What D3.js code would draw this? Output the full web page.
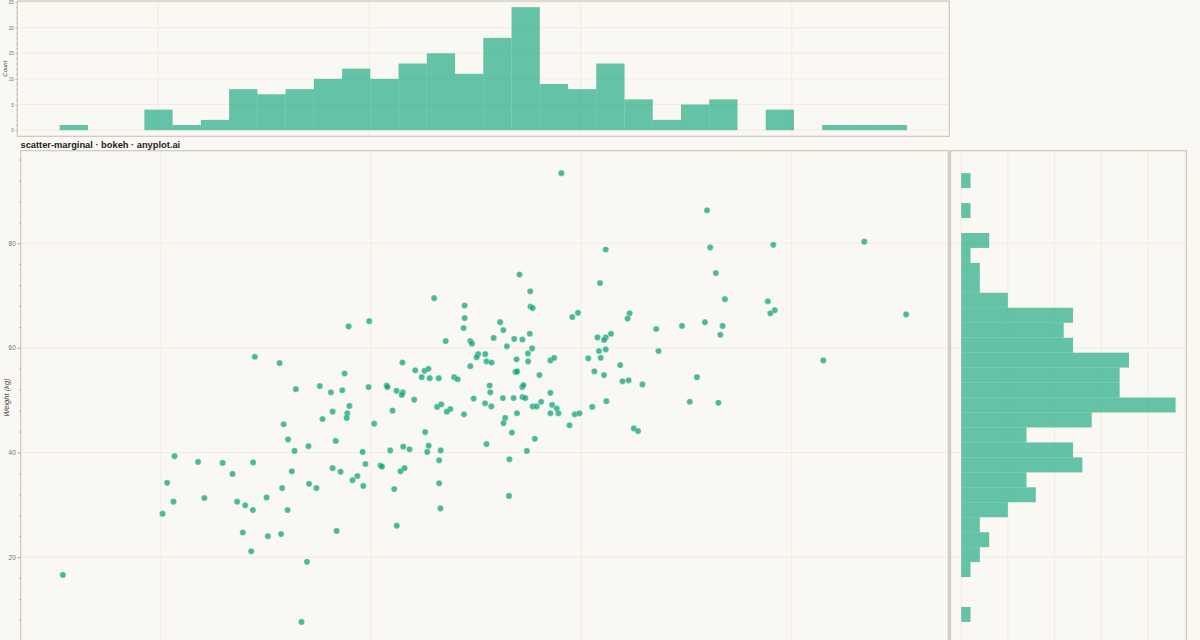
<!DOCTYPE html>
<html>
<head>
<meta charset="utf-8">
<script src="https://cdn.jsdelivr.net/npm/d3@7"></script>
<style>
html,body{margin:0;padding:0;background:#FAF8F2;overflow:hidden}
svg{display:block}
text{font-family:"Liberation Sans",Arial,Helvetica,sans-serif}
</style>
</head>
<body>
<svg id="chart" width="1200" height="640"></svg>
<script>
// ---------------- data ----------------
const heightCm = [
158.93,159.91,154.47,155.65,158.74,156.42,157.56,158.09,158.63,159.88,
160.74,160.78,161.21,158.97,158.17,158.87,157.69,158.84,161.02,155.84,
160.15,156.05,158.32,157.02,156.36,159.60,160.91,150.65,151.77,152.94,
154.39,159.73,160.45,160.52,158.17,150.30,153.41,156.23,158.55,161.40,
161.59,150.60,152.07,150.08,153.63,154.01,154.38,155.03,155.77,156.03,
157.05,157.40,159.12,159.35,159.63,161.10,153.90,155.09,155.72,154.30,
158.36,161.22,156.95,156.69,163.24,166.56,163.30,170.89,163.00,167.57,
164.45,167.58,167.69,164.45,164.40,166.14,166.29,169.84,169.57,172.30,
172.20,163.55,164.72,164.80,165.83,166.81,167.20,167.55,166.46,167.66,
167.46,170.77,171.16,171.08,171.41,170.84,171.16,161.49,165.09,165.43,
165.02,165.49,165.73,166.92,167.47,168.53,168.71,170.33,170.92,171.85,
162.10,162.54,162.73,162.41,162.79,163.22,163.95,164.12,164.72,166.87,
166.95,168.01,170.62,171.08,171.96,172.25,172.91,161.51,161.46,162.05,
165.64,165.67,164.88,166.27,166.78,167.19,167.25,167.20,167.34,168.53,
165.42,165.72,163.14,163.34,163.77,163.60,164.42,167.69,167.88,168.09,
168.61,168.83,168.53,168.91,166.94,166.38,166.30,170.52,171.19,169.69,
169.91,169.44,172.50,172.70,162.57,166.70,167.79,165.49,161.53,161.83,
162.74,162.67,163.31,167.41,163.24,166.58,175.98,176.13,179.13,183.46,
176.40,176.83,178.87,178.99,179.20,185.45,173.56,174.79,175.88,176.72,
176.61,173.67,181.51,175.50,175.16,176.52,169.05,171.16,167.06,145.34
];
const weightKg = [
64.1,65.1,58.3,57.1,55.1,52.1,52.7,51.5,51.9,52.5,
52.8,52.5,51.8,48.9,47.8,47.5,46.4,46.6,48.0,45.4,
45.5,42.5,42.2,41.2,40.3,40.1,40.4,39.3,38.2,38.0,
38.1,37.8,37.5,37.3,37.0,34.2,35.9,36.4,36.3,36.4,
37.0,30.6,31.3,28.3,30.6,29.9,29.0,31.4,33.2,29.0,
34.0,33.2,34.7,35.5,33.6,33.0,24.7,24.0,24.4,21.1,
25.0,26.0,19.1,7.6,34.1,31.7,29.3,72.4,69.5,70.8,
68.1,67.9,67.6,65.7,63.8,64.9,63.4,66.7,65.9,66.6,
65.6,61.3,61.3,60.8,61.9,61.7,61.6,62.7,60.3,59.9,
58.9,62.0,62.0,61.5,62.7,59.4,59.7,57.2,58.8,58.8,
58.2,57.4,57.2,57.8,57.4,57.6,58.1,58.0,58.1,56.7,
55.7,55.6,56.0,54.4,54.2,54.2,54.4,54.0,56.5,55.4,
55.5,54.8,55.5,54.8,53.6,53.8,53.0,51.5,51.0,50.1,
52.8,51.5,50.3,50.4,50.4,52.5,52.9,50.6,50.4,51.4,
49.4,48.8,48.7,49.2,48.3,47.8,47.3,48.8,48.8,49.7,
49.1,48.4,47.5,47.5,47.5,46.6,45.6,48.7,49.8,47.3,
47.5,45.2,44.6,44.1,43.9,43.8,42.6,41.6,41.1,40.6,
41.3,40.1,40.4,40.3,38.5,38.7,86.3,79.2,79.7,80.3,
74.3,69.3,68.9,66.6,67.2,66.4,63.6,64.2,64.9,64.2,
62.5,59.4,57.6,54.4,49.7,49.5,93.4,78.8,74.0,16.6
];
// 30 equal-width bins from min to max (left -> right)
const heightBinCounts = [1,0,0,4,1,2,8,7,8,10,12,10,13,15,11,18,24,9,8,13,6,2,5,6,0,4,0,1,1,1];
// 30 equal-width bins from min to max (bottom -> top)
const weightBinCounts = [1,0,0,1,2,3,2,5,8,7,13,12,7,14,23,17,17,18,12,11,12,5,2,2,1,3,0,1,0,1];
const heightGridTicks = [150,160,170,180];
const weightTicks = [20,40,60,80];
const countTicks = [0,5,10,15,20,25];
const countGridTicks = [0,5,10,15,20];
const titleText = "scatter-marginal · bokeh · anyplot.ai";
const weightLabel = "Weight (kg)";
const countLabel = "Count";

(function(){
// ---------------- style ----------------
const BG = "#FAF8F2";
const GREEN = "#009E73";
const GRID = "#F0ECE5";
const FRAME = "#CDC8C0";
const TICKTXT = "#6E6E6E";

const svg = d3.select("#chart");
svg.append("rect").attr("width",1200).attr("height",640).attr("fill",BG);

const xExt = d3.extent(heightCm), yExt = d3.extent(weightKg);
const xPad = (xExt[1]-xExt[0])*0.05, yPad = (yExt[1]-yExt[0])*0.05;
const xDom = [xExt[0]-xPad, xExt[1]+xPad];
const yDom = [yExt[0]-yPad, yExt[1]+yPad];
const nb = heightBinCounts.length;
const xEdges = d3.range(nb+1).map(i => xExt[0] + i*(xExt[1]-xExt[0])/nb);
const yEdges = d3.range(weightBinCounts.length+1).map(i => yExt[0] + i*(yExt[1]-yExt[0])/weightBinCounts.length);

// frames
const mainF = {l:20.7, r:948.3, t:150.7, b:644.4};
const topF = {l:17.3, r:949.3, t:1, b:136.3};
const rightF = {l:950.5, r:1186.3, t:150.7, b:644.4};

const xMain = d3.scaleLinear().domain(xDom).range([mainF.l, mainF.r]);
const yMain = d3.scaleLinear().domain(yDom).range([mainF.b, mainF.t]);
const xTop = d3.scaleLinear().domain(xDom).range([topF.l, topF.r]);
const maxTop = d3.max(heightBinCounts);
const yTop = d3.scaleLinear().domain([-0.05*maxTop, 1.05*maxTop]).range([topF.b, topF.t]);
const maxRight = d3.max(weightBinCounts);
const xRight = d3.scaleLinear().domain([-0.05*maxRight, 1.05*maxRight]).range([rightF.l, rightF.r]);

function clip(id, f){
  svg.append("clipPath").attr("id",id).append("rect")
    .attr("x",f.l).attr("y",f.t).attr("width",f.r-f.l).attr("height",f.b-f.t);
}
clip("cTop",topF); clip("cMain",mainF); clip("cRight",rightF);

// ---------- top histogram ----------
const gT = svg.append("g").attr("clip-path","url(#cTop)");
gT.selectAll(".hg").data(countTicks).join("line")
  .attr("x1",topF.l).attr("x2",topF.r).attr("y1",d=>yTop(d)).attr("y2",d=>yTop(d))
  .attr("stroke",GRID).attr("stroke-width",1);
gT.selectAll(".vg").data(heightGridTicks).join("line")
  .attr("y1",topF.t).attr("y2",topF.b).attr("x1",d=>xTop(d)).attr("x2",d=>xTop(d))
  .attr("stroke",GRID).attr("stroke-width",1);
gT.selectAll("rect.bar").data(heightBinCounts.map((c,i)=>({c,i})).filter(d=>d.c>0)).join("rect")
  .attr("class","bar")
  .attr("x",d=>xTop(xEdges[d.i])).attr("width",d=>xTop(xEdges[d.i+1])-xTop(xEdges[d.i]))
  .attr("y",d=>yTop(d.c)).attr("height",d=>yTop(0)-yTop(d.c))
  .attr("fill",GREEN).attr("fill-opacity",0.6);
svg.append("rect").attr("x",topF.l).attr("y",topF.t).attr("width",topF.r-topF.l).attr("height",topF.b-topF.t)
  .attr("fill","none").attr("stroke",FRAME).attr("stroke-width",1.2);
const axT = svg.append("g").attr("transform",`translate(${topF.l},0)`)
  .call(d3.axisLeft(yTop).tickValues(countTicks).tickSize(2).tickPadding(1.5));
axT.select(".domain").remove();
axT.selectAll("line").attr("stroke","#999").attr("stroke-width",0.6);
axT.selectAll("text").attr("font-size","4.6px").attr("fill",TICKTXT).attr("font-family","Liberation Sans, Arial, sans-serif");
const axTm = svg.append("g").attr("transform",`translate(${topF.l},0)`)
  .call(d3.axisLeft(yTop).tickValues(d3.range(0,26).filter(v=>v%5!==0)).tickSize(1.2).tickFormat(""));
axTm.select(".domain").remove();
axTm.selectAll("line").attr("stroke","#999").attr("stroke-width",0.5);
svg.append("text").attr("transform",`translate(7.2,${(topF.t+topF.b)/2}) rotate(-90)`)
  .attr("text-anchor","middle").attr("font-size","6px").attr("font-style","italic")
  .attr("fill","#444").text(countLabel);

// ---------- title ----------
svg.append("text").attr("x",20.5).attr("y",147.6).attr("font-size","9.3px").attr("font-weight","bold")
  .attr("fill","#222").text(titleText);

// ---------- main scatter ----------
const gM = svg.append("g").attr("clip-path","url(#cMain)");
gM.selectAll(".hg").data(weightTicks).join("line")
  .attr("x1",mainF.l).attr("x2",mainF.r).attr("y1",d=>yMain(d)).attr("y2",d=>yMain(d))
  .attr("stroke",GRID).attr("stroke-width",1);
gM.selectAll(".vg").data(heightGridTicks).join("line")
  .attr("y1",mainF.t).attr("y2",mainF.b).attr("x1",d=>xMain(d)).attr("x2",d=>xMain(d))
  .attr("stroke",GRID).attr("stroke-width",1);
gM.selectAll("circle").data(heightCm.map((h,i)=>[h,weightKg[i]])).join("circle")
  .attr("cx",d=>xMain(d[0])).attr("cy",d=>yMain(d[1])).attr("r",3.1)
  .attr("fill",GREEN).attr("fill-opacity",0.7)
  .attr("stroke","#fff").attr("stroke-opacity",0.6).attr("stroke-width",0.5);
svg.append("rect").attr("x",mainF.l).attr("y",mainF.t).attr("width",mainF.r-mainF.l).attr("height",mainF.b-mainF.t)
  .attr("fill","none").attr("stroke",FRAME).attr("stroke-width",1.2);
const axM = svg.append("g").attr("transform",`translate(${mainF.l},0)`)
  .call(d3.axisLeft(yMain).tickValues(weightTicks).tickSize(3.5).tickPadding(1.5));
axM.select(".domain").remove();
axM.selectAll("line").attr("stroke","#999").attr("stroke-width",0.7);
axM.selectAll("text").attr("font-size","6.4px").attr("fill",TICKTXT).attr("font-family","Liberation Sans, Arial, sans-serif");
const axMm = svg.append("g").attr("transform",`translate(${mainF.l},0)`)
  .call(d3.axisLeft(yMain).tickValues(d3.range(4,97,4).filter(v=>v%20!==0)).tickSize(2).tickFormat(""));
axMm.select(".domain").remove();
axMm.selectAll("line").attr("stroke","#999").attr("stroke-width",0.6);
svg.append("text").attr("transform",`translate(8.6,${(mainF.t+mainF.b)/2}) rotate(-90)`)
  .attr("text-anchor","middle").attr("font-size","7.5px").attr("font-style","italic")
  .attr("fill","#444").text(weightLabel);

// ---------- right histogram ----------
const gR = svg.append("g").attr("clip-path","url(#cRight)");
gR.selectAll(".vg").data(countGridTicks).join("line")
  .attr("y1",rightF.t).attr("y2",rightF.b).attr("x1",d=>xRight(d)).attr("x2",d=>xRight(d))
  .attr("stroke",GRID).attr("stroke-width",1);
gR.selectAll(".hg").data(weightTicks).join("line")
  .attr("x1",rightF.l).attr("x2",rightF.r).attr("y1",d=>yMain(d)).attr("y2",d=>yMain(d))
  .attr("stroke",GRID).attr("stroke-width",1);
gR.selectAll("rect.bar").data(weightBinCounts.map((c,i)=>({c,i})).filter(d=>d.c>0)).join("rect")
  .attr("class","bar")
  .attr("x",xRight(0)).attr("width",d=>xRight(d.c)-xRight(0))
  .attr("y",d=>yMain(yEdges[d.i+1])).attr("height",d=>yMain(yEdges[d.i])-yMain(yEdges[d.i+1]))
  .attr("fill",GREEN).attr("fill-opacity",0.6);
svg.append("rect").attr("x",rightF.l).attr("y",rightF.t).attr("width",rightF.r-rightF.l).attr("height",rightF.b-rightF.t)
  .attr("fill","none").attr("stroke",FRAME).attr("stroke-width",1.2);
svg.append("rect").attr("x",mainF.r).attr("y",mainF.t).attr("width",rightF.l-mainF.r).attr("height",mainF.b-mainF.t)
  .attr("fill","#D2CDC5");
})();
</script>
</body>
</html>
